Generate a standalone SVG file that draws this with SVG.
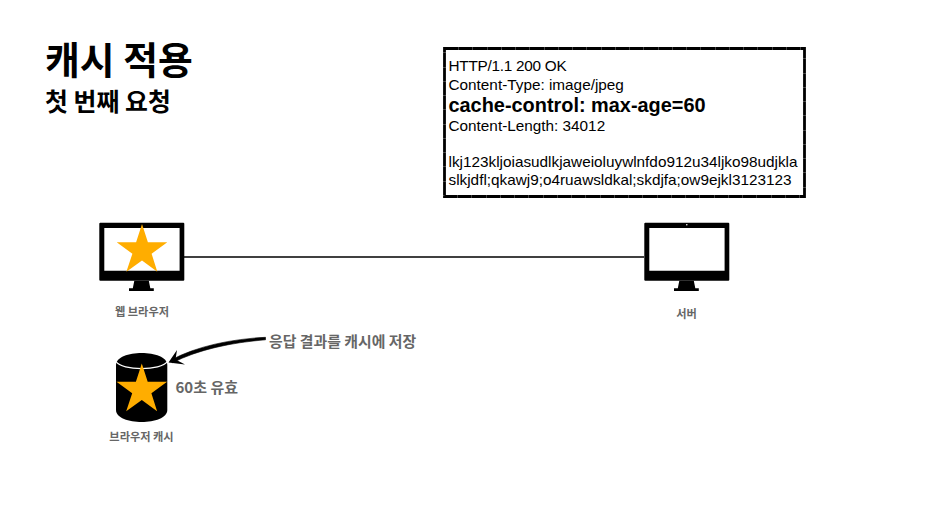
<svg xmlns="http://www.w3.org/2000/svg" width="929" height="516" viewBox="0 0 929 516">
<style>
text{font-family:"Liberation Sans","Noto Sans CJK KR",sans-serif}
.ko{font-family:"Noto Sans CJK KR","Noto Sans",sans-serif}
.t{font-weight:700;fill:#000}
.lbl{font-size:11.200px;font-weight:700;fill:#666;text-anchor:middle}
.note{font-size:14.900px;font-weight:700;fill:#666}
.m{font-size:15.320px;fill:#000}
.star{fill:#ffad00}
</style>
<defs>
<g id="monitor">
<path fill-rule="evenodd" d="M1 0H84Q85 0 85 1V57Q85 58 84 58H1Q0 58 0 57V1Q0 0 1 0ZM5 5.300V48H80.300V5.300Z"/>
<path d="M35 58H49.500L51 65.500H54.500V68.200H29.700V65.500H33.500Z"/>
</g>
<polygon id="star" class="star" points="25.300,0 31.200,18.300 50.600,18.300 34.900,29.700 40.600,47.700 25.300,36.600 9.700,47.700 15.700,29.700 0,18.300 19.400,18.300"/>
</defs>
<rect width="929" height="516" fill="#fff"/>
<g id="title">
<text class="ko t" x="45" y="74" font-size="37.800">캐시 적용</text>
<text class="ko t" x="45" y="111" font-size="24.900">첫 번째 요청</text>
</g>
<g id="connectors">
<path d="M184 257H644" fill="none" stroke="#000" stroke-width="1.400"/>
<path d="M265.500 337.300C232 339 197 346 171 360L172.500 362.800C198 349.500 232 342.500 265.500 339.800Z" fill="#000" stroke="#000" stroke-width=".6"/>
<path d="M177 350L168.500 362.500L185 364.500L175.500 359.500Z" fill="#000"/>
</g>
<g id="browser">
<use href="#monitor" x="99.300" y="222.800"/>
<use href="#star" x="116.700" y="224"/>
<text class="ko lbl" x="142" y="316">웹 브라우저</text>
</g>
<g id="server">
<use href="#monitor" x="644.300" y="222.800"/>
<circle cx="686.800" cy="224.800" r=".8" fill="#fff"/>
<text class="ko lbl" x="686.500" y="318">서버</text>
</g>
<g id="cache">
<path d="M116 365C116 349 167.300 349 167.300 365V410C167.300 426 116 426 116 410Z" fill="#000"/>
<path d="M116 361.500C122 371 161 371 167.300 361.500" fill="none" stroke="#fff" stroke-width="1.300"/>
<use href="#star" x="116.500" y="363.500"/>
<text class="ko lbl" x="141.500" y="441">브라우저 캐시</text>
</g>
<g id="note-store">
<text class="ko note" x="269" y="347">응답 결과를 캐시에 저장</text>
</g>
<g id="note-ttl">
<text class="ko note" x="175.500" y="392.500" style="font-size:15px">60초 유효</text>
</g>
<g id="response">
<rect x="444.500" y="48.500" width="360" height="148" fill="#fff" stroke="#000" stroke-width="2.800" stroke-dasharray="14 .25"/>
<text class="m" x="448.500" y="70.500" letter-spacing="-.25">HTTP/1.1 200 OK</text>
<text class="m" x="448.500" y="89.500">Content-Type: image/jpeg</text>
<text x="448.500" y="112" font-size="19.900" font-weight="700" fill="#000">cache-control: max-age=60</text>
<text class="m" x="448.500" y="131">Content-Length: 34012</text>
<text class="m" x="448.500" y="167">lkj123kljoiasudlkjaweioluywlnfdo912u34ljko98udjkla</text>
<text class="m" x="448.500" y="185">slkjdfl;qkawj9;o4ruawsldkal;skdjfa;ow9ejkl3123123</text>
</g>
</svg>
